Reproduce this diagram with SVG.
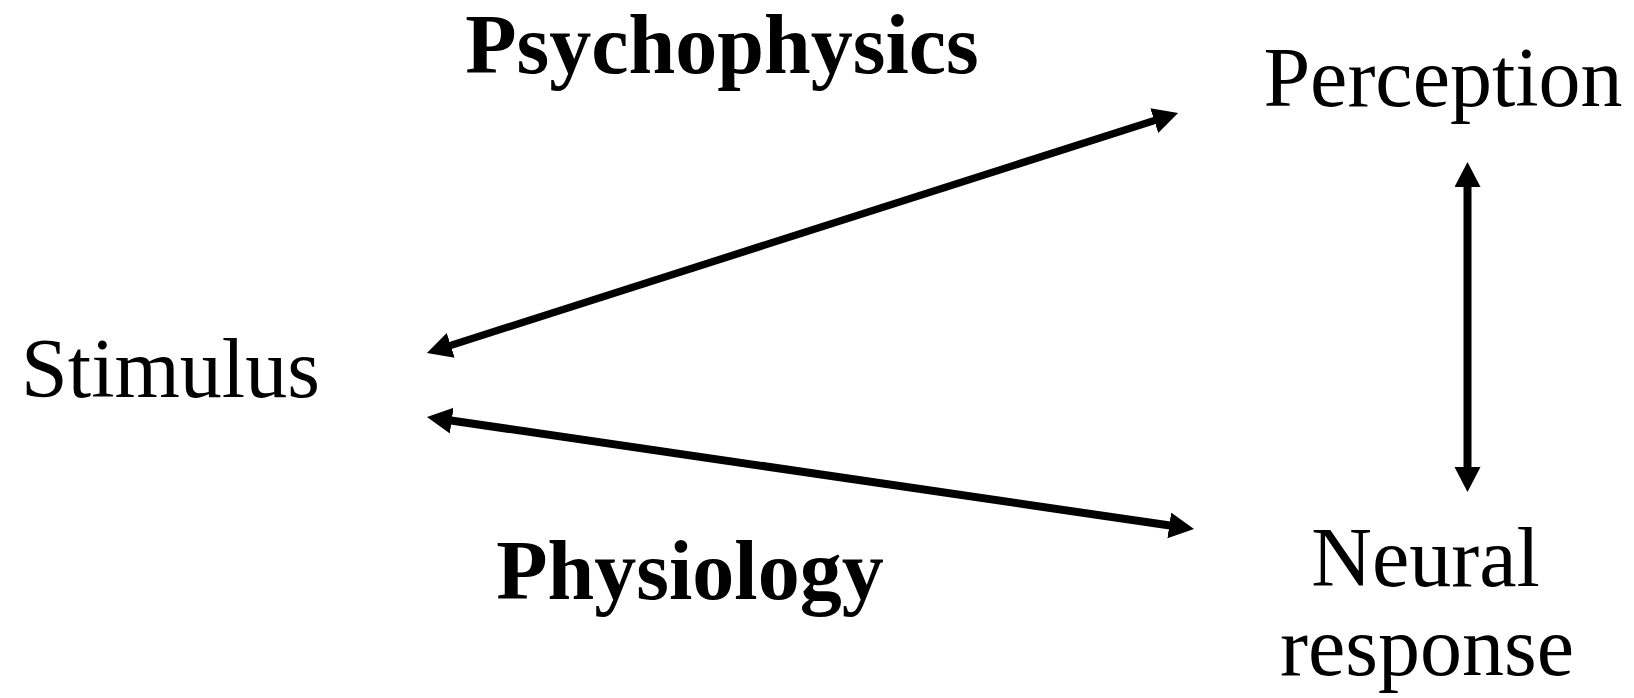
<svg xmlns="http://www.w3.org/2000/svg" width="1634" height="698" viewBox="0 0 1634 698">
<style>
text{font-family:"Liberation Serif","Times New Roman",serif;font-size:84px;fill:#000;text-anchor:middle}
.b{font-weight:bold}
.c{fill:none;stroke:#000;stroke-width:8;marker-start:url(#ah);marker-end:url(#ah)}
</style>
<defs>
<marker id="ah" markerUnits="userSpaceOnUse" markerWidth="28" markerHeight="28" refX="6" refY="13" orient="auto-start-reverse" viewBox="0 0 28 28">
<path d="M0,0 L25,13 L0,26 Z" fill="#000"/>
</marker>
</defs>
<rect width="1634" height="698" fill="#fff"/>
<g id="connectors">
<path class="c" style="stroke-width:7.5" d="M445,347.2 L1160,118.8"/>
<path class="c" d="M445.8,419.7 L1175.2,526.3"/>
<path class="c" d="M1467.5,181 L1467.5,473"/>
</g>
<g id="psychophysics"><text class="b" x="722" y="73">Psychophysics</text></g>
<g id="perception"><text x="1443" y="106">Perception</text></g>
<g id="stimulus"><text x="170.5" y="397">Stimulus</text></g>
<g id="physiology"><text class="b" x="690" y="599">Physiology</text></g>
<g id="neural-response"><text x="1425.5" y="586">Neural</text><text x="1427" y="675">response</text></g>
</svg>
